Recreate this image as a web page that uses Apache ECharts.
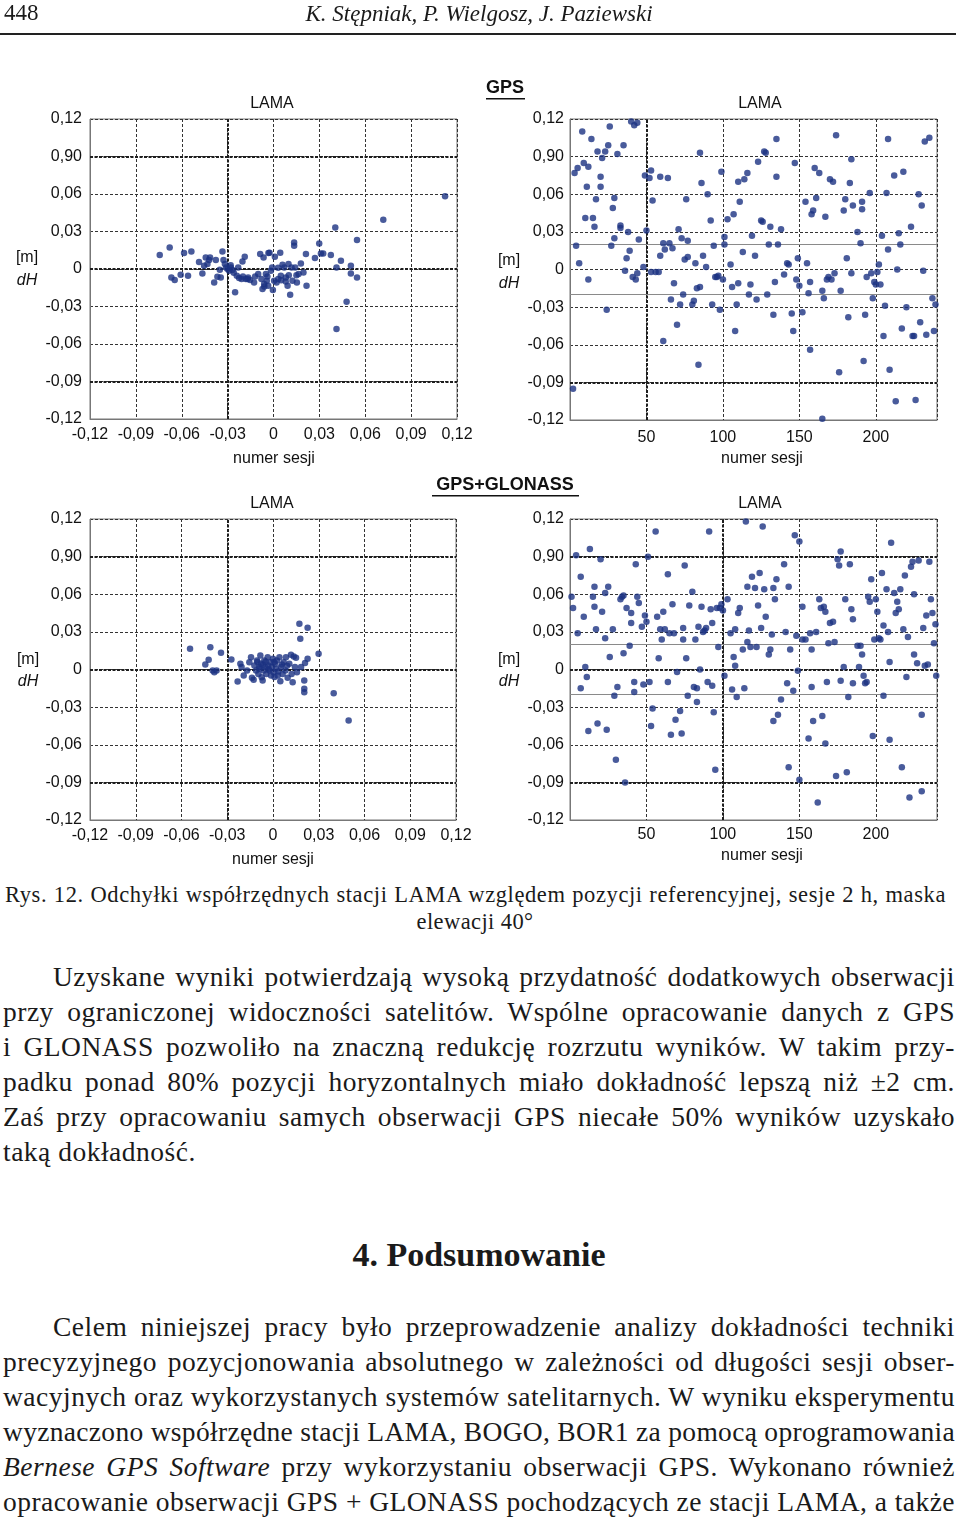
<!DOCTYPE html>
<html>
<head>
<meta charset="utf-8">
<script src="https://cdn.jsdelivr.net/npm/echarts@6/dist/echarts.min.js"></script>
<style>
  html,body{margin:0;padding:0;background:#fff;}
  body{width:960px;height:1523px;position:relative;overflow:hidden;font-family:"Liberation Serif","DejaVu Serif",serif;color:#1a1a1a;}
  #chart{position:absolute;left:0;top:0;width:960px;height:880px;}
  .ln{position:absolute;height:34px;line-height:34px;font-size:27.5px;white-space:nowrap;}
  .cap{position:absolute;height:26px;line-height:26px;font-size:22px;white-space:nowrap;}
</style>
</head>
<body>
<div id="chart"></div>

<div class="cap" style="left:4px;top:0px;font-size:23px;">448</div>
<div class="cap" style="left:200px;width:558px;top:1px;text-align:center;font-style:italic;font-size:23px;">K. Stępniak, P. Wielgosz, J. Paziewski</div>
<div style="position:absolute;left:0;top:33px;width:956px;height:1.5px;background:#222;"></div>

<div class="cap jl" data-w="941" data-ls="0.6" style="left:5px;top:882px;font-size:22.5px;">Rys. 12. Odchyłki współrzędnych stacji LAMA względem pozycji referencyjnej, sesje 2 h, maska</div>
<div class="cap" style="left:0;width:950px;top:909px;text-align:center;font-size:22.5px;letter-spacing:0.4px;">elewacji 40°</div>

<div class="ln jl" data-w="902" style="left:53px;top:960px;">Uzyskane wyniki potwierdzają wysoką przydatność dodatkowych obserwacji</div>
<div class="ln jl" data-w="952" style="left:3px;top:995px;">przy ograniczonej widoczności satelitów. Wspólne opracowanie danych z GPS</div>
<div class="ln jl" data-w="952" style="left:3px;top:1030px;">i GLONASS pozwoliło na znaczną redukcję rozrzutu wyników. W takim przy-</div>
<div class="ln jl" data-w="952" style="left:3px;top:1065px;">padku ponad 80% pozycji horyzontalnych miało dokładność lepszą niż ±2 cm.</div>
<div class="ln jl" data-w="952" style="left:3px;top:1100px;">Zaś przy opracowaniu samych obserwacji GPS niecałe 50% wyników uzyskało</div>
<div class="ln" style="left:3px;top:1135px;letter-spacing:0.5px;">taką dokładność.</div>

<div style="position:absolute;left:0;width:958px;top:1235px;height:40px;line-height:40px;text-align:center;font-size:34px;font-weight:bold;">4. Podsumowanie</div>

<div class="ln jl" data-w="902" style="left:53px;top:1310px;">Celem niniejszej pracy było przeprowadzenie analizy dokładności techniki</div>
<div class="ln jl" data-w="952" style="left:3px;top:1345px;">precyzyjnego pozycjonowania absolutnego w zależności od długości sesji obser-</div>
<div class="ln jl" data-w="952" style="left:3px;top:1380px;">wacyjnych oraz wykorzystanych systemów satelitarnych. W wyniku eksperymentu</div>
<div class="ln jl" data-w="952" style="left:3px;top:1415px;">wyznaczono współrzędne stacji LAMA, BOGO, BOR1 za pomocą oprogramowania</div>
<div class="ln jl" data-w="952" style="left:3px;top:1450px;"><i>Bernese GPS Software</i> przy wykorzystaniu obserwacji GPS. Wykonano również</div>
<div class="ln jl" data-w="952" style="left:3px;top:1485px;">opracowanie obserwacji GPS + GLONASS pochodzących ze stacji LAMA, a także</div>

<script>
// justify each printed line to its measured width (letter + word spacing)
(function(){
  document.querySelectorAll('.jl').forEach(function(el){
    var target = parseFloat(el.getAttribute('data-w'));
    var txt = el.textContent;
    var nChars = txt.length;
    var nSpaces = (txt.match(/ /g) || []).length;
    var ls = parseFloat(el.getAttribute('data-ls') || '0.5');
    el.style.letterSpacing = '0px'; el.style.wordSpacing = '0px';
    var w0 = el.getBoundingClientRect().width;
    var maxLs = (target - w0) / nChars;
    if (ls > maxLs) ls = Math.max(maxLs, -0.6);
    el.style.letterSpacing = ls + 'px';
    var w1 = el.getBoundingClientRect().width;
    var ws = nSpaces ? (target - w1) / nSpaces : 0;
    el.style.wordSpacing = ws + 'px';
  });
})();
</script>

<script>
// ---------- data ----------
const dhTickLabels = ["-0,12","-0,09","-0,06","-0,03","0","0,03","0,06","0,90","0,12"];
const dxTickLabels = ["-0,12","-0,09","-0,06","-0,03","0","0,03","0,06","0,09","0,12"];
const sessionTicks = [50,100,150,200];

// GPS: scatter of horizontal offsets (x) vs dH
const gpsScatter = [[-0.0744,0.0112],[-0.0679,0.0173],[-0.0668,-0.0067],[-0.0646,-0.0088],[-0.0607,-0.0045],[-0.0585,0.0128],[-0.0559,-0.0053],[-0.0537,0.0141],[-0.0487,0.0056],[-0.0465,-0.0035],[-0.0454,0.0027],[-0.0443,0.0093],[-0.0432,0.004],[-0.0421,0.0072],[-0.0415,0.0093],[-0.0388,-0.0107],[-0.0377,0.0072],[-0.0367,-0.0061],[-0.0351,-0.0005],[-0.0345,-0.0067],[-0.0334,0.0141],[-0.0327,0.0072],[-0.0318,0.004],[-0.031,0.0013],[-0.0301,0],[-0.029,-0.0013],[-0.0279,0.0013],[-0.0268,-0.0008],[-0.0251,-0.0186],[-0.024,-0.0053],[-0.0231,0.0013],[-0.0225,-0.0072],[-0.0209,-0.008],[-0.0203,0.0061],[-0.0188,0.0099],[-0.0181,-0.008],[-0.0166,-0.0067],[-0.0153,-0.0088],[-0.0127,-0.0107],[-0.01,-0.004],[-0.0087,0.012],[-0.0079,-0.008],[-0.0072,-0.016],[-0.0065,0.0093],[-0.0061,-0.012],[-0.005,-0.004],[-0.0044,-0.0093],[-0.0035,-0.0133],[-0.0026,0.0131],[-0.0017,-0.0013],[-0.0009,0.0013],[-0.0004,-0.0168],[0.0004,-0.0093],[0.0009,0.0099],[0.002,-0.0107],[0.0031,-0.008],[0.0044,0.0131],[0.0048,-0.0053],[0.0059,0.0035],[0.007,0.0013],[0.0081,-0.0067],[0.0092,-0.0133],[0.0098,0.004],[0.0109,-0.0205],[0.0118,0.0013],[0.0124,-0.0093],[0.0135,0.0213],[0.0135,0.0186],[0.0142,0.0013],[0.0153,-0.0107],[0.0164,-0.004],[0.0179,0.0045],[0.0196,-0.0027],[0.0212,0.012],[0.0216,-0.0133],[0.0271,0.0088],[0.0299,0.0205],[0.031,0.0125],[0.0325,0.0125],[0.0375,0.0112],[0.0404,0.0333],[0.0412,0.0013],[0.0441,0.0067],[0.0478,-0.0261],[0.0506,0.0027],[0.0506,-0.0035],[0.0546,0.0232],[0.0546,-0.0067],[0.0412,-0.048],[0.0718,0.0394],[0.1122,0.0583],[-0.028,0.003],[-0.026,-0.003],[-0.012,-0.006],[-0.004,-0.006],[0.005,-0.009],[0.010,-0.005],[0.003,0.001],[-0.020,-0.006],[0.015,-0.005],[-0.017,-0.008],[-0.0033,0.0128],[0.008,-0.010],[-0.006,-0.014]];

// GPS: session number vs dH
const gpsSeries = [[2,-0.095],[3,0.077],[4,0.019],[5,0.081],[6,0.005],[8,0.110],[9,0.085],[10,0.041],[11,0.066],[12,-0.008],[12,0.082],[14,0.104],[15,0.041],[16,0.034],[17,0.056],[18,0.094],[20,0.066],[20,0.074],[21,0.089],[23,0.094],[24,-0.032],[25,0.099],[26,0.114],[27,0.019],[28,0.049],[29,0.057],[29,0.025],[31,0.092],[33,0.035],[33,0.033],[35,0.099],[36,-0.001],[37,0.009],[38,0.030],[39,0.015],[40,0.118],[41,-0.006],[42,0.115],[43,-0.008],[44,0.117],[44,-0.003],[45,0.024],[48,0.002],[49,0.075],[50,0.031],[52,0.073],[53,0.079],[53,-0.002],[54,0.055],[56,-0.002],[58,-0.002],[59,0.074],[59,0.011],[61,0.021],[61,-0.057],[62,0.016],[64,0.073],[65,0.021],[66,-0.024],[67,0.017],[68,-0.011],[70,-0.044],[71,0.032],[72,-0.028],[73,0.025],[74,-0.020],[75,0.008],[76,0.056],[77,0.010],[77,0.023],[80,-0.028],[81,-0.025],[82,0.005],[83,-0.015],[84,-0.076],[85,0.093],[85,-0.014],[86,0.069],[87,0.011],[89,0.002],[90,0.060],[92,0.039],[93,-0.028],[94,0.019],[95,-0.006],[96,-0.006],[97,-0.005],[98,-0.032],[99,0.078],[100,-0.008],[101,0.026],[101,0.020],[103,0.040],[105,0.004],[106,-0.014],[107,0.044],[108,-0.049],[109,-0.028],[110,-0.011],[110,0.070],[111,0.054],[113,0.014],[114,0.072],[116,0.077],[117,-0.020],[118,-0.012],[119,0.027],[121,0.011],[122,-0.024],[123,0.086],[125,0.039],[126,0.038],[127,0.094],[128,0.093],[129,-0.020],[130,0.020],[131,0.034],[133,-0.036],[134,-0.010],[135,0.074],[135,0.104],[136,0.020],[138,0.032],[140,-0.004],[142,0.005],[143,0.004],[145,-0.035],[146,-0.049],[147,0.085],[148,-0.008],[149,0.009],[150,-0.013],[152,-0.034],[154,0.054],[155,0.005],[156,-0.019],[157,-0.010],[157,-0.064],[158,0.044],[159,0.047],[160,0.081],[161,0.057],[163,0.077],[165,-0.119],[165,-0.017],[166,-0.023],[167,0.042],[168,-0.008],[169,-0.006],[170,0.072],[171,-0.008],[172,0.070],[173,-0.003],[174,0.107],[176,-0.082],[177,-0.017],[179,0.047],[180,0.056],[181,0.009],[182,-0.038],[183,0.069],[184,-0.003],[184,0.088],[185,0.051],[188,0.030],[190,0.021],[191,0.054],[191,0.048],[192,-0.073],[193,-0.036],[194,-0.006],[196,0.061],[197,-0.003],[198,-0.023],[199,-0.010],[200,-0.012],[201,-0.002],[202,0.004],[203,-0.012],[204,0.027],[205,-0.053],[206,-0.029],[207,0.061],[208,0.016],[208,0.104],[209,-0.080],[212,0.075],[213,-0.105],[214,0.000],[215,0.029],[216,0.020],[217,-0.047],[218,0.078],[220,-0.030],[223,0.034],[224,-0.053],[225,-0.053],[226,-0.104],[228,0.060],[229,-0.042],[230,0.051],[231,-0.001],[232,0.102],[233,-0.052],[235,0.105],[237,-0.023],[238,-0.049],[239,-0.028]];

// GPS+GLONASS: scatter of horizontal offsets (x) vs dH
const ggScatter = [[-0.0544,0.0165],[-0.0444,0.004],[-0.0422,0.0077],[-0.0411,0.0178],[-0.0396,-0.0008],[-0.0385,-0.0021],[-0.037,-0.0008],[-0.0341,0.0133],[-0.0273,0.008],[-0.0232,-0.0096],[-0.0214,0.0045],[-0.0206,0.0019],[-0.0192,-0.0048],[-0.017,-0.0008],[-0.0155,0.0058],[-0.0144,0.0098],[-0.0138,-0.0066],[-0.0127,-0.0082],[-0.0122,0.0032],[-0.0111,-0.0008],[-0.0105,0.0072],[-0.0096,-0.0035],[-0.009,0.0019],[-0.0083,0.0112],[-0.0079,0.0045],[-0.0074,-0.0061],[-0.0068,-0.0088],[-0.0061,-0.0008],[-0.0057,0.0072],[-0.005,0.0019],[-0.0044,-0.0035],[-0.0035,0.0098],[-0.0031,0.0032],[-0.0024,-0.0008],[-0.0017,0.0058],[-0.0013,-0.0048],[-0.0007,0.0019],[0,0.0085],[0.0004,-0.0021],[0.0013,0.0045],[0.002,0.0005],[0.0026,0.0072],[0.0031,-0.0048],[0.0042,0.0098],[0.0048,-0.0093],[0.0052,0.0019],[0.0063,-0.0035],[0.007,0.0058],[0.0081,-0.0008],[0.0085,0.0098],[0.0096,-0.0066],[0.0107,0.0045],[0.0118,0.0117],[0.0122,-0.0035],[0.0129,-0.0101],[0.0136,0.0104],[0.0144,0.0019],[0.0151,0.0093],[0.0157,-0.0021],[0.0173,0.0364],[0.0179,0.0245],[0.0184,0.0019],[0.0205,-0.0088],[0.0205,-0.0154],[0.0205,-0.0181],[0.021,0.0051],[0.0227,0.0332],[0.0227,0.0085],[0.0299,0.0125],[0.0398,-0.0189],[0.0496,-0.0407],[-0.0088,0.0005],[-0.0066,0.0038],[-0.0028,0.0002],[0.0008,0.0060],[0.0035,-0.0015],[0.0058,0.0040],[-0.0102,0.0060],[-0.0048,0.0062],[0.0010,-0.0060],[0.0092,0.0030]];

// GPS+GLONASS: session number vs dH
const ggSeries = [[1,0.058],[2,0.049],[4,0.091],[5,0.029],[7,-0.015],[7,0.074],[9,0.042],[10,0.002],[11,-0.006],[12,-0.049],[13,0.096],[15,0.058],[16,0.066],[16,0.050],[17,0.032],[18,-0.043],[20,0.088],[21,0.046],[23,0.061],[23,0.025],[24,-0.048],[25,0.066],[26,0.010],[28,0.032],[29,-0.021],[30,-0.072],[31,-0.014],[33,0.056],[34,0.058],[35,0.059],[35,0.013],[36,-0.090],[37,0.049],[39,0.019],[40,0.037],[40,0.045],[42,-0.010],[42,-0.018],[43,0.084],[44,0.058],[45,0.053],[47,0.034],[48,-0.012],[49,0.043],[50,0.038],[51,0.090],[52,-0.010],[53,-0.045],[54,-0.031],[56,0.110],[57,0.042],[58,0.009],[59,0.032],[60,0.024],[61,0.046],[62,0.032],[64,0.076],[64,-0.010],[65,0.029],[66,-0.052],[67,0.052],[68,0.029],[69,-0.040],[70,-0.002],[72,-0.033],[73,-0.051],[74,0.033],[74,0.024],[75,0.083],[76,0.009],[77,-0.021],[78,0.051],[80,0.062],[81,-0.014],[82,0.024],[83,-0.015],[83,-0.026],[84,0.034],[85,0.000],[86,0.050],[87,0.030],[88,0.031],[89,0.033],[90,-0.010],[91,0.110],[92,0.048],[93,0.037],[93,-0.013],[94,-0.034],[95,-0.080],[96,0.049],[97,0.018],[98,0.049],[99,0.052],[100,0.047],[101,-0.005],[103,0.056],[105,0.029],[106,-0.016],[107,0.010],[108,0.003],[108,0.032],[109,-0.022],[110,0.045],[111,0.049],[113,0.016],[114,-0.015],[115,0.118],[116,0.066],[116,0.022],[117,0.031],[118,0.018],[119,0.074],[121,0.065],[122,0.018],[123,0.051],[124,0.077],[125,0.033],[126,0.114],[127,0.064],[128,0.042],[130,0.012],[131,0.016],[132,0.028],[133,0.065],[133,-0.041],[134,0.056],[135,0.072],[136,-0.036],[138,-0.024],[140,0.084],[141,0.030],[142,-0.011],[143,-0.078],[143,0.066],[144,0.016],[146,-0.017],[147,0.107],[148,0.027],[149,-0.001],[150,-0.088],[150,0.102],[152,0.050],[152,0.024],[154,0.024],[156,-0.055],[157,0.029],[158,-0.014],[158,0.016],[159,-0.041],[161,0.030],[162,-0.106],[163,0.056],[164,0.049],[165,-0.037],[166,0.050],[167,-0.059],[167,0.046],[168,-0.010],[169,0.021],[170,0.037],[172,0.038],[173,0.022],[174,-0.085],[175,0.088],[176,0.083],[177,0.094],[177,-0.009],[179,0.002],[180,0.056],[181,-0.082],[182,-0.022],[183,0.084],[184,0.048],[185,0.040],[185,-0.011],[188,0.019],[189,0.002],[190,0.019],[191,0.012],[192,-0.005],[193,-0.011],[194,-0.010],[195,0.058],[196,0.054],[197,0.072],[198,-0.053],[199,0.024],[200,0.056],[201,0.046],[202,0.025],[203,0.024],[204,0.077],[205,-0.021],[205,0.035],[207,0.064],[208,0.030],[209,0.006],[209,-0.056],[210,0.101],[212,0.061],[213,0.045],[214,0.054],[215,0.048],[216,0.064],[217,-0.078],[218,0.032],[219,0.075],[220,-0.006],[221,0.026],[222,-0.102],[223,0.082],[224,0.086],[225,0.060],[225,0.012],[227,0.005],[228,0.087],[230,-0.097],[230,-0.036],[231,0.033],[232,0.003],[233,0.043],[234,0.004],[235,0.086],[236,0.056],[237,0.045],[238,0.021],[239,0.036],[239.5,-0.005]];

// ---------- chart ----------
const SANS = '"Liberation Sans", Arial, sans-serif';
const DOT = '#1c3282';
const chart = echarts.init(document.getElementById('chart'));

const grids = [
  {left:90, top:119, width:367, height:300},
  {left:570, top:119, width:367, height:301},
  {left:90, top:519, width:366, height:301},
  {left:570, top:519, width:367, height:301}
];

function dhLabel(v){ return dhTickLabels[Math.round((v + 0.12) / 0.03)] || ''; }
function dxLabel(v){ return dxTickLabels[Math.round((v + 0.12) / 0.03)] || ''; }
function sessLabel(v){ return sessionTicks.indexOf(Math.round(v)) >= 0 && Math.abs(v - Math.round(v)) < 1e-6 ? String(Math.round(v)) : ''; }

const splitStyle = {show:true, lineStyle:{color:'#333', width:1, type:[3,2]}};
const axisLine = {show:true, onZero:false, lineStyle:{color:'#777', width:1}};

function yAx(i, margin){
  return {type:'value', gridIndex:i, min:-0.12, max:0.12, interval:0.03,
    axisLine:axisLine, axisTick:{show:false}, splitLine:splitStyle,
    axisLabel:{formatter:dhLabel, fontFamily:SANS, fontSize:16, color:'#111', margin:margin}};
}
function xAxScatter(i, margin){
  return {type:'value', gridIndex:i, min:-0.12, max:0.12, interval:0.03,
    axisLine:axisLine, axisTick:{show:false}, splitLine:splitStyle,
    axisLabel:{formatter:dxLabel, fontFamily:SANS, fontSize:16, color:'#111', margin:margin}};
}
function xAxSession(i, margin){
  return {type:'value', gridIndex:i, min:0, max:240, interval:50,
    axisLine:axisLine, axisTick:{show:false}, splitLine:splitStyle,
    axisLabel:{formatter:sessLabel, fontFamily:SANS, fontSize:16, color:'#111', margin:margin, showMaxLabel:false, showMinLabel:false}};
}

const heavy = {color:'#1e1e1e', width:2, type:[3,1.5]};
const gray = {color:'#8a8a8a', width:1.2, type:'solid'};
function ml(items){
  return {silent:true, symbol:['none','none'], label:{show:false}, animation:false,
    data: items.map(it => Object.assign({}, it.k === 'x' ? {xAxis:it.v} : {yAxis:it.v}, {lineStyle:it.s}))};
}

function scat(i, data, lines){
  return {type:'scatter', xAxisIndex:i, yAxisIndex:i, data:data, symbol:'circle', symbolSize:6.5,
    itemStyle:{color:DOT}, z:5, animation:false, markLine: ml(lines)};
}

const txt = (x, y, t, opt) => Object.assign({type:'text', x:x, y:y, style:Object.assign({text:t, fill:'#111', font:'16px ' + SANS, align:'center', verticalAlign:'middle'}, opt || {})});

const option = {
  backgroundColor:'#fff',
  animation:false,
  grid: grids.map(g => Object.assign({show:true, borderColor:'#777', borderWidth:1, containLabel:false}, g)),
  xAxis:[xAxScatter(0,8), xAxSession(1,10), xAxScatter(2,8), xAxSession(3,7)],
  yAxis:[yAx(0,8), yAx(1,6), yAx(2,8), yAx(3,6)],
  series:[
    scat(0, gpsScatter, [{k:'y',v:0.09,s:heavy},{k:'y',v:0,s:heavy},{k:'y',v:-0.09,s:heavy},{k:'x',v:-0.03,s:heavy}]),
    scat(1, gpsSeries, [{k:'y',v:-0.09,s:heavy},{k:'x',v:50,s:heavy},{k:'y',v:0.02,s:gray},{k:'y',v:-0.02,s:gray}]),
    scat(2, ggScatter, [{k:'y',v:0.09,s:heavy},{k:'y',v:0,s:heavy},{k:'y',v:-0.09,s:heavy},{k:'x',v:-0.03,s:heavy}]),
    scat(3, ggSeries, [{k:'y',v:0.09,s:heavy},{k:'y',v:0,s:heavy},{k:'y',v:-0.09,s:heavy},{k:'x',v:100,s:heavy},{k:'y',v:0.02,s:gray},{k:'y',v:-0.02,s:gray}])
  ],
  graphic:[
    txt(505, 88, 'GPS', {font:'bold 18px ' + SANS}),
    {type:'rect', shape:{x:486, y:98, width:39, height:1.6}, style:{fill:'#111'}},
    txt(505, 485, 'GPS+GLONASS', {font:'bold 18px ' + SANS}),
    {type:'rect', shape:{x:432, y:495, width:147, height:1.6}, style:{fill:'#111'}},
    txt(272, 104, 'LAMA'), txt(760, 104, 'LAMA'),
    txt(272, 504, 'LAMA'), txt(760, 504, 'LAMA'),
    txt(274, 459, 'numer sesji'), txt(762, 459, 'numer sesji'),
    txt(273, 860, 'numer sesji'), txt(762, 856, 'numer sesji'),
    txt(27, 258, '[m]'), txt(27, 281, 'dH', {font:'italic 16px ' + SANS}),
    txt(509, 261, '[m]'), txt(509, 284, 'dH', {font:'italic 16px ' + SANS}),
    txt(28, 660, '[m]'), txt(28, 682, 'dH', {font:'italic 16px ' + SANS}),
    txt(509, 660, '[m]'), txt(509, 682, 'dH', {font:'italic 16px ' + SANS})
  ]
};
chart.setOption(option);
</script>
</body>
</html>
